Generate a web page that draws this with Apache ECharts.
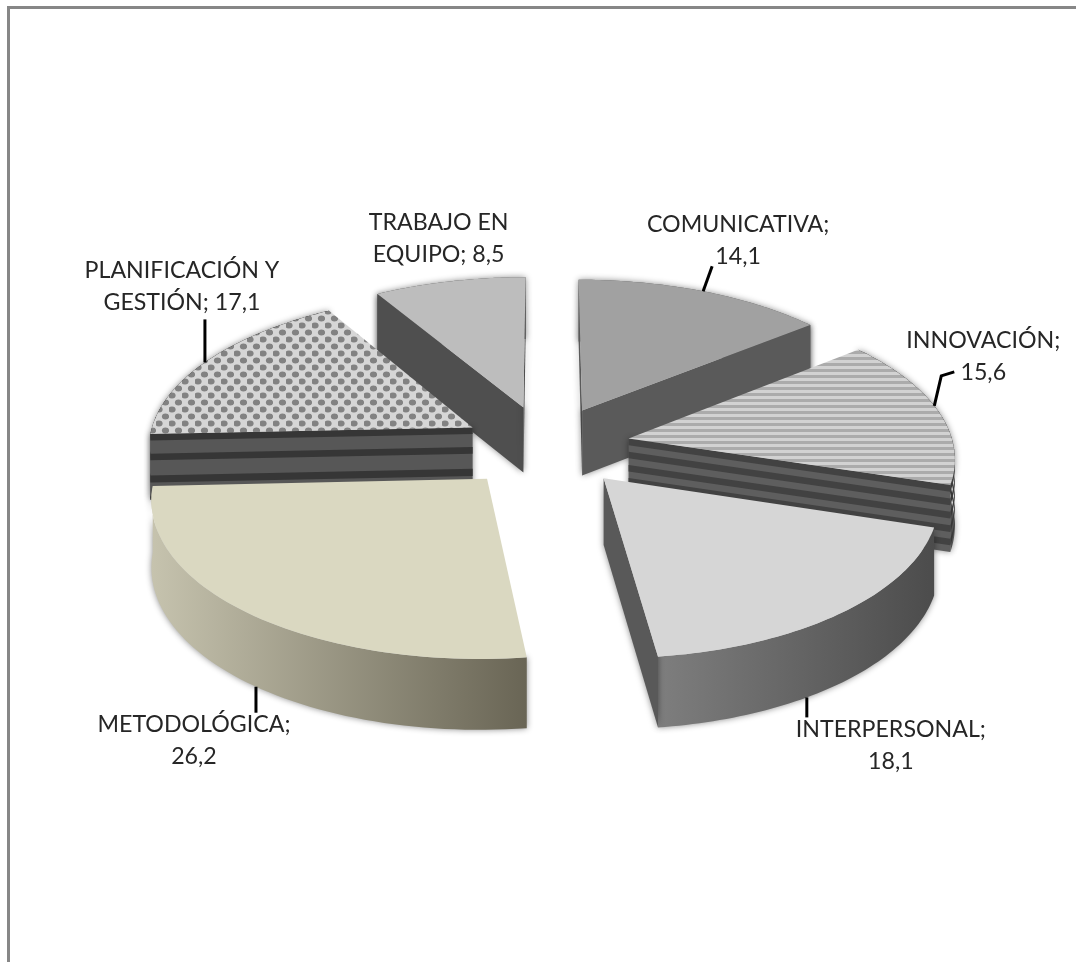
<!DOCTYPE html>
<html><head><meta charset="utf-8">
<style>html,body{margin:0;padding:0;background:#fff}#c{width:1076px;height:962px}</style>
<script src="https://cdn.jsdelivr.net/npm/echarts@6/dist/echarts.min.js"></script>
</head><body><div id="c"></div>
<script>
const categories = ['COMUNICATIVA','INNOVACIÓN','INTERPERSONAL','METODOLÓGICA','PLANIFICACIÓN Y GESTIÓN','TRABAJO EN EQUIPO'];
const values = [14.1,15.6,18.1,26.2,17.1,8.5];

// projection of the tilted disc
const view = {cx:546, cy:446, rx:325, ry:152.5, persp:0.11, depth:66};
const explode = [0.265,0.26,0.27,0.275,0.26,0.27];

function tile(w,h,draw){const c=document.createElement('canvas');c.width=w;c.height=h;draw(c.getContext('2d'));return {image:c,repeat:'repeat'};}
const hatch = tile(6,6,g=>{g.fillStyle='#d2d2d2';g.fillRect(0,0,6,6);g.fillStyle='#ababab';g.fillRect(0,3,6,3);});
const dots = tile(13,14,g=>{g.fillStyle='#d6d6d6';g.fillRect(0,0,13,14);g.fillStyle='#828282';
  [[3,3.5],[9.5,10.5]].forEach(p=>{g.beginPath();g.ellipse(p[0],p[1],3.6,3,0,0,7);g.fill();});});
const G=echarts.graphic.LinearGradient;
const stripes5=[[0,.1],[.2,.3],[.4,.5],[.6,.7],[.8,.9]];
const stripes3=[[0,.1],[.3,.4],[.63,.74],[.95,1]];
const looks = [
 {top:'#a1a1a1',wall:'#5a5a5a',rim:'#5a5a5a'},
 {top:hatch,wall:'#5e5e5e',rim:'#5e5e5e',dark:'#424242',bands:stripes5},
 {top:'#d6d6d6',wall:'#595959',rim:new G(0,0,1,0,[{offset:0,color:'#7e7e7e'},{offset:1,color:'#4c4c4c'}])},
 {top:'#dad8c1',wall:'#8f8c7a',rim:new G(0,0,1,0,[{offset:0,color:'#c6c3ae'},{offset:1,color:'#696555'}])},
 {top:dots,wall:'#575757',rim:'#575757',dark:'#363636',bands:stripes3},
 {top:'#bdbdbd',wall:'#4f4f4f',rim:'#4f4f4f'}
];
// label layout: rim angle shift for the leader, leader vector path, text block offset from leader end
const labelLayout = [
 {shift:0, bottom:false, path:[[9,-25]], text:[26,-26]},
 {shift:-2, bottom:false, path:[[7,-30],[13,-4]], text:[29,-15]},
 {shift:7.5, bottom:true, path:[[0,20]], text:[84,28]},
 {shift:-2, bottom:true, path:[[0,26]], text:[-62,28]},
 {shift:-1, bottom:false, path:[[0,-43]], text:[-23,-33]},
 {shift:0, bottom:false, path:[], text:[-11,-43]}
];

const total = values.reduce((a,b)=>a+b,0);
let acc=0;
const spans = values.map(v=>{const a=acc/total*Math.PI*2;acc+=v;return [a,acc/total*Math.PI*2];});

function proj(wx,wy){const s=1/(1-view.persp*wy);return {x:view.cx+view.rx*wx*s,y:view.cy+view.ry*wy*s,s};}
function rimPoint(i,a){const m=(spans[i][0]+spans[i][1])/2,e=explode[i];
  return proj(e*Math.sin(m)+Math.sin(a),-e*Math.cos(m)-Math.cos(a));}
function apexPoint(i){const m=(spans[i][0]+spans[i][1])/2,e=explode[i];
  return proj(e*Math.sin(m),-e*Math.cos(m));}
function drop(p){return view.depth*Math.sqrt(p.s);}
function band(pts,f0,f1){const a=pts.map(p=>[p.x,p.y+drop(p)*f0]);
  const b=pts.map(p=>[p.x,p.y+drop(p)*f1]).reverse();return a.concat(b);}
function labelText(i){const t=(categories[i]+'; '+String(values[i]).replace('.',',')).split(' ');
  const k=t.length>2?t.length-2:1;return t.slice(0,k).join(' ')+'\n'+t.slice(k).join(' ');}

function renderSlice(params,api){
  const i=params.dataIndex,[a0,a1]=spans[i],look=looks[i];
  const N=60,rim=[];for(let k=0;k<=N;k++)rim.push(rimPoint(i,a0+(a1-a0)*k/N));
  const apex=apexPoint(i),mid=rim[N/2];
  const z=Math.round((mid.y-view.cy)/2)+200;
  const kids=[];
  const poly=(pts,fill,zz,sh)=>{const style={fill,stroke:null};
    if(sh){style.shadowColor='rgba(0,0,0,0.45)';style.shadowBlur=6;}
    kids.push({type:'polygon',z2:z+zz,shape:{points:pts},style});};
  const face=(pts,fill,zz)=>{poly(band(pts,0,1),fill,zz,true);
    (look.bands||[]).forEach(b=>poly(band(pts,b[0],b[1]),look.dark,zz+0.1,false));};
  face(rim,look.rim,0);
  [rim[0],rim[N]].forEach(e=>{
    const ex=e.x-apex.x,ey=e.y-apex.y,mx=mid.x-apex.x,my=mid.y-apex.y;
    if((ex*my-ey*mx)*ex<0) face([apex,e],look.wall,1);
  });
  poly([[apex.x,apex.y]].concat(rim.map(p=>[p.x,p.y])),look.top,2,false);
  // leader and label
  const L=labelLayout[i],m=(a0+a1)/2+L.shift*Math.PI/180,r=rimPoint(i,m);
  let x=r.x,y=r.y+(L.bottom?drop(r):0);const line=[[x,y]];
  L.path.forEach(d=>{x+=d[0];y+=d[1];line.push([x,y]);});
  if(L.path.length)kids.push({type:'polyline',z2:900,shape:{points:line},style:{stroke:'#000',lineWidth:3,fill:null}});
  kids.push({type:'text',z2:901,style:{x:x+L.text[0],y:y+L.text[1],text:labelText(i),fill:'#262626',
    font:'23.2px Lato',align:'center',verticalAlign:'middle',lineHeight:32}});
  return {type:'group',children:kids};
}

const chart=echarts.init(document.getElementById('c'),null,{renderer:'canvas'});
chart.setOption({
  animation:false,backgroundColor:'#fff',
  graphic:[
    {type:'rect',shape:{x:7,y:6,width:1069,height:3},style:{fill:'#878787'}},
    {type:'rect',shape:{x:7,y:6,width:3,height:956},style:{fill:'#878787'}}
  ],
  series:[{type:'custom',coordinateSystem:'none',renderItem:renderSlice,silent:true,
    data:categories.map((c,i)=>({name:c,value:values[i]}))}]
});
</script></body></html>
